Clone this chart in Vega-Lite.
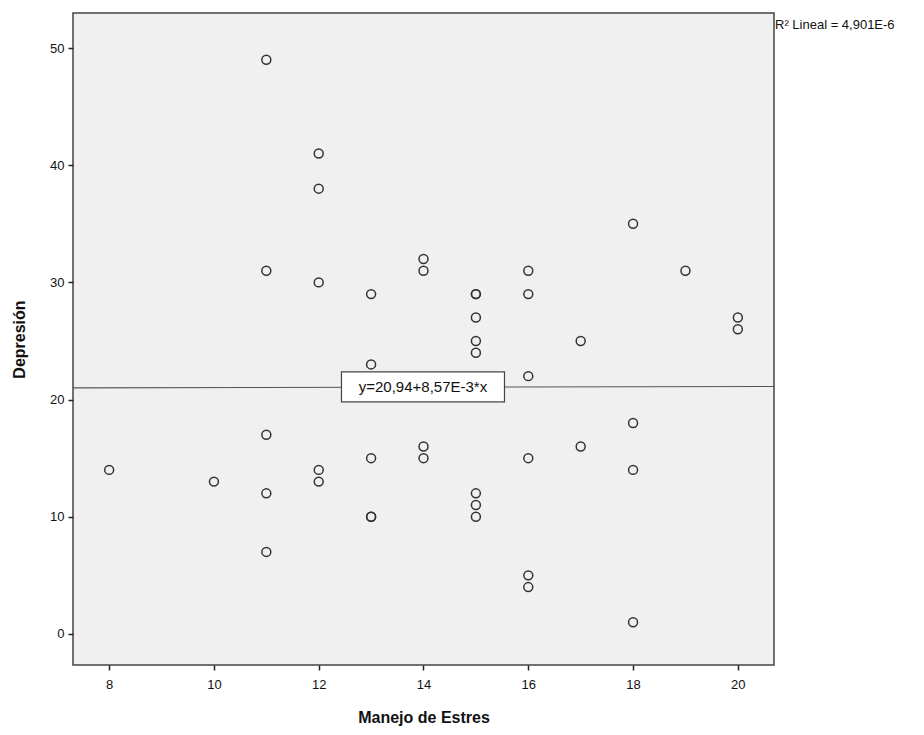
{
  "$schema": "https://vega.github.io/schema/vega-lite/v6.json",
  "autosize": {"type": "none"},
  "width": 701,
  "height": 652,
  "padding": {"left": 73, "top": 13, "right": 150, "bottom": 70},
  "background": "white",
  "config": {
    "view": {"fill": "#f0f0f0", "stroke": "#444444", "strokeWidth": 1.5},
    "font": "Liberation Sans",
    "axis": {
      "grid": false,
      "domain": false,
      "tickColor": "#222222",
      "tickSize": 5,
      "tickWidth": 1.5,
      "labelFont": "Liberation Sans",
      "labelFontSize": 13,
      "labelColor": "#111111",
      "titleFont": "Liberation Sans",
      "titleFontSize": 16,
      "titleFontWeight": "bold",
      "titleColor": "#111111"
    }
  },
  "datasets": {
    "puntos": [
      {"estres": 8, "depresion": 14},
      {"estres": 10, "depresion": 13},
      {"estres": 11, "depresion": 49},
      {"estres": 11, "depresion": 31},
      {"estres": 11, "depresion": 17},
      {"estres": 11, "depresion": 12},
      {"estres": 11, "depresion": 7},
      {"estres": 12, "depresion": 41},
      {"estres": 12, "depresion": 38},
      {"estres": 12, "depresion": 30},
      {"estres": 12, "depresion": 14},
      {"estres": 12, "depresion": 13},
      {"estres": 13, "depresion": 29},
      {"estres": 13, "depresion": 23},
      {"estres": 13, "depresion": 15},
      {"estres": 13, "depresion": 10},
      {"estres": 13, "depresion": 10},
      {"estres": 14, "depresion": 32},
      {"estres": 14, "depresion": 31},
      {"estres": 14, "depresion": 16},
      {"estres": 14, "depresion": 15},
      {"estres": 15, "depresion": 29},
      {"estres": 15, "depresion": 29},
      {"estres": 15, "depresion": 27},
      {"estres": 15, "depresion": 25},
      {"estres": 15, "depresion": 24},
      {"estres": 15, "depresion": 12},
      {"estres": 15, "depresion": 11},
      {"estres": 15, "depresion": 10},
      {"estres": 16, "depresion": 31},
      {"estres": 16, "depresion": 29},
      {"estres": 16, "depresion": 22},
      {"estres": 16, "depresion": 15},
      {"estres": 16, "depresion": 5},
      {"estres": 16, "depresion": 4},
      {"estres": 17, "depresion": 25},
      {"estres": 17, "depresion": 16},
      {"estres": 18, "depresion": 35},
      {"estres": 18, "depresion": 18},
      {"estres": 18, "depresion": 14},
      {"estres": 18, "depresion": 1},
      {"estres": 19, "depresion": 31},
      {"estres": 20, "depresion": 27},
      {"estres": 20, "depresion": 26}
    ],
    "ajuste": [
      {"estres": 7.31, "depresion": 21.003},
      {"estres": 20.69, "depresion": 21.117}
    ],
    "etiqueta": [
      {"estres": 13.99, "depresion": 21.08, "texto": "y=20,94+8,57E-3*x"}
    ],
    "r2": [
      {"estres": 20.69, "depresion": 52.99, "texto": "R² Lineal = 4,901E-6"}
    ]
  },
  "layer": [
    {
      "data": {"name": "ajuste"},
      "mark": {"type": "line", "color": "#555555", "strokeWidth": 1.2, "clip": true},
      "encoding": {
        "x": {
          "field": "estres", "type": "quantitative",
          "scale": {"domain": [7.31, 20.69], "nice": false, "zero": false},
          "axis": {"values": [8, 10, 12, 14, 16, 18, 20], "title": "Manejo de Estres", "labelPadding": 8, "titlePadding": 18}
        },
        "y": {
          "field": "depresion", "type": "quantitative",
          "scale": {"domain": [-2.65, 52.99], "nice": false, "zero": false},
          "axis": {"values": [0, 10, 20, 30, 40, 50], "title": "Depresión", "labelPadding": 4, "titlePadding": 22}
        }
      }
    },
    {
      "data": {"name": "puntos"},
      "mark": {"type": "point", "shape": "circle", "filled": false, "size": 80, "stroke": "#333333", "strokeWidth": 1.5, "opacity": 1},
      "encoding": {
        "x": {"field": "estres", "type": "quantitative"},
        "y": {"field": "depresion", "type": "quantitative"}
      }
    },
    {
      "data": {"name": "etiqueta"},
      "mark": {
        "type": "point",
        "shape": "M-1,-0.184L1,-0.184L1,0.184L-1,0.184Z",
        "size": 26569,
        "filled": true,
        "fill": "white",
        "stroke": "#444444",
        "strokeWidth": 1.2,
        "opacity": 1
      },
      "encoding": {
        "x": {"field": "estres", "type": "quantitative"},
        "y": {"field": "depresion", "type": "quantitative"}
      }
    },
    {
      "data": {"name": "etiqueta"},
      "mark": {"type": "text", "font": "Liberation Sans", "fontSize": 15, "color": "#111111", "align": "center", "baseline": "middle"},
      "encoding": {
        "x": {"field": "estres", "type": "quantitative"},
        "y": {"field": "depresion", "type": "quantitative"},
        "text": {"field": "texto"}
      }
    },
    {
      "data": {"name": "r2"},
      "mark": {"type": "text", "font": "Liberation Sans", "fontSize": 13, "color": "#111111", "align": "left", "baseline": "top", "dx": 1, "dy": 6, "clip": false},
      "encoding": {
        "x": {"field": "estres", "type": "quantitative"},
        "y": {"field": "depresion", "type": "quantitative"},
        "text": {"field": "texto"}
      }
    }
  ]
}
